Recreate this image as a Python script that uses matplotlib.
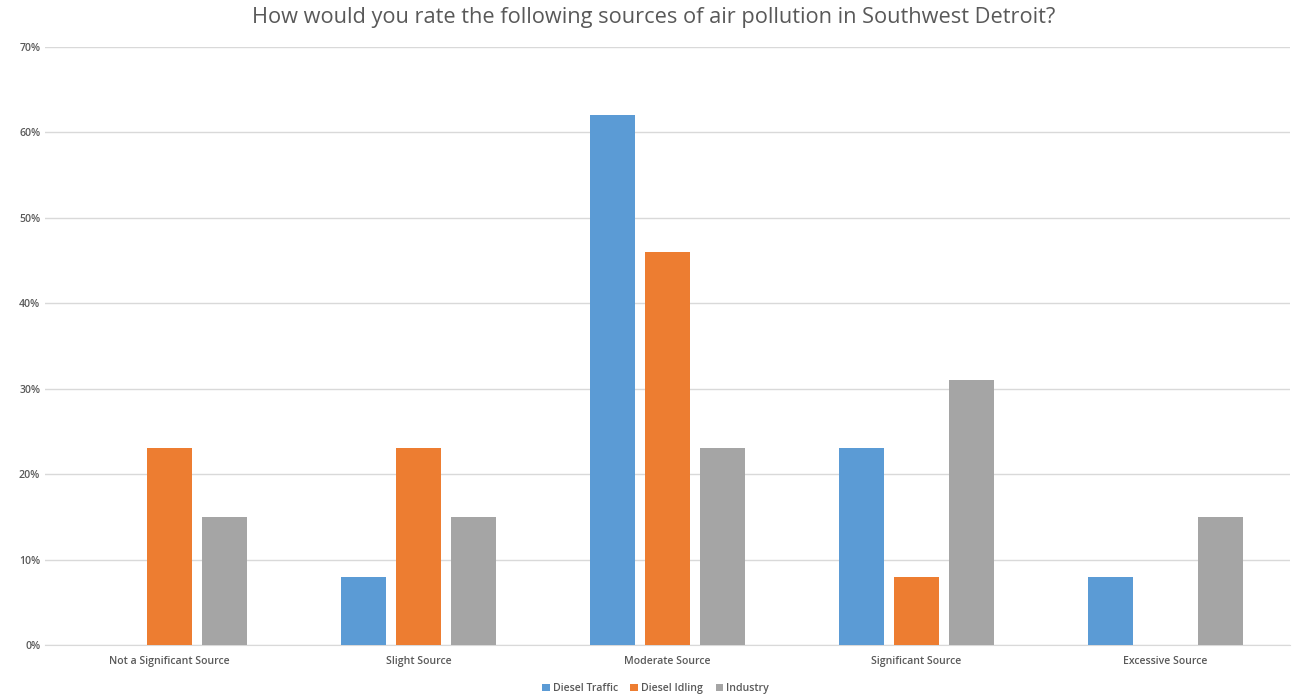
import matplotlib
matplotlib.use('Agg')
import matplotlib.pyplot as plt
import numpy as np
from matplotlib.ticker import FuncFormatter

# survey data (percent)
categories = ['Not a Significant Source', 'Slight Source', 'Moderate Source',
              'Significant Source', 'Excessive Source']
series_names = ['Diesel Traffic', 'Diesel Idling', 'Industry']
diesel_traffic = [0, 8, 62, 23, 8]
diesel_idling = [23, 23, 46, 8, 0]
industry = [15, 15, 23, 31, 15]
colors = ['#5B9BD5', '#ED7D31', '#A5A5A5']

plt.rcParams['font.family'] = ['Open Sans', 'DejaVu Sans']

fig = plt.figure(figsize=(12.98, 7), dpi=100)
ax = fig.add_axes([0.0347, 0.0786, 0.959, 0.8543])

x = np.arange(len(categories))
width = 0.18
step = 0.22
for i, (vals, name) in enumerate(zip([diesel_traffic, diesel_idling, industry], series_names)):
    ax.bar(x + (i - 1) * step, vals, width, color=colors[i], label=name, zorder=3)

ax.set_xlim(-0.5, len(categories) - 0.5)
ax.set_ylim(0, 70)
ax.set_yticks(range(0, 71, 10))
ax.yaxis.set_major_formatter(FuncFormatter(lambda v, p: '%d%%' % v))
ax.set_xticks(x)
ax.set_xticklabels(categories)
ax.tick_params(axis='both', length=0, labelsize=7.6, colors='#595959')
ax.tick_params(axis='x', pad=8)
for lbl in ax.get_xticklabels() + ax.get_yticklabels():
    lbl.set_fontweight('semibold')
ax.grid(axis='y', color='#D9D9D9', linewidth=1, zorder=0)
for s in ['top', 'right', 'left']:
    ax.spines[s].set_visible(False)
ax.spines['bottom'].set_color('#D9D9D9')

fig.suptitle('How would you rate the following sources of air pollution in Southwest Detroit?',
             fontsize=15.7, color='#595959', x=0.5035, y=0.99)

leg = fig.legend(loc='lower center', ncol=3, frameon=False,
                 prop={'size': 7.6, 'weight': 'semibold'},
                 handlelength=0.7, handleheight=0.7, handletextpad=0.3, columnspacing=1.2,
                 bbox_to_anchor=(0.505, -0.005), labelcolor='#595959')

fig.savefig('out.png', dpi=100)
